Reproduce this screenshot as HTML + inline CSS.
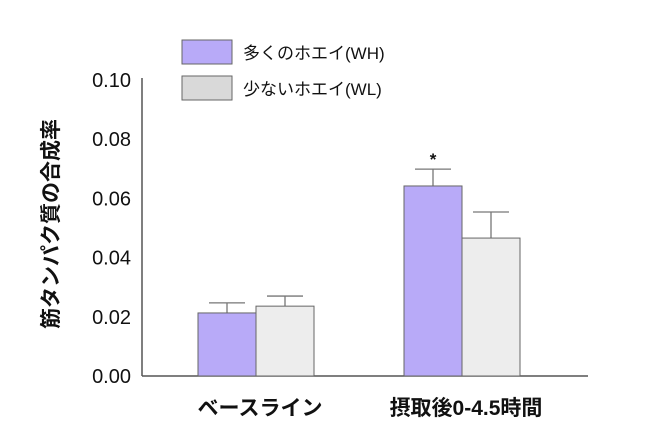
<!DOCTYPE html>
<html><head><meta charset="utf-8"><style>
body{margin:0;background:#fff;}
svg text{font-family:"Liberation Sans","Noto Sans CJK JP",sans-serif;fill:#111;}
</style></head><body>
<svg width="651" height="442" id="chart">
<g id="g"></g>
</svg>
<script>
const categories=["ベースライン","摂取後0-4.5時間"];
const seriesNames=["多くのホエイ(WH)","少ないホエイ(WL)"];
const whValues=[0.0213,0.0642];
const wlValues=[0.0236,0.0466];
const whErrors=[0.0034,0.0057];
const wlErrors=[0.0034,0.0088];
const yTicks=[0,0.02,0.04,0.06,0.08,0.10];
const yTickLabels=["0.00","0.02","0.04","0.06","0.08","0.10"];
const ns="http://www.w3.org/2000/svg";
const g=document.getElementById('g');
const y0=376,yTop=80,xAxis=142,xEnd=588;
function y(v){return y0-(v/0.10)*(y0-yTop);}
const groupCenters=[256,462];
function x(i){return groupCenters[i];}
const barW=58;
function mk(t,a){const e=document.createElementNS(ns,t);for(const k in a)e.setAttribute(k,a[k]);g.appendChild(e);return e;}
let e=mk('line',{x1:xAxis,y1:78,x2:xAxis,y2:y0,stroke:'#555','stroke-width':1.5});


e=mk('line',{x1:xAxis,y1:y0,x2:xEnd,y2:y0,stroke:'#555','stroke-width':1.5});


yTicks.forEach((v,i)=>{
  const t=mk('text',{x:131,y:y(v)+7,'text-anchor':'end','font-size':20});
  t.textContent=yTickLabels[i];
  
  
});
const series=[{vals:whValues,errs:whErrors,fill:'#b8aaf8',off:-barW},{vals:wlValues,errs:wlErrors,fill:'#ededed',off:0}];
series.forEach((s,si)=>{
  s.vals.forEach((v,i)=>{
    const bx=x(i)+s.off, cx=bx+barW/2;
    const et=y(v+s.errs[i]);
    let l=mk('line',{x1:cx,y1:et,x2:cx,y2:y(v),stroke:'#777','stroke-width':1.3});
    
    
    l=mk('line',{x1:cx-18,y1:et,x2:cx+18,y2:et,stroke:'#777','stroke-width':1.3});
    
    
    const r=mk('rect',{x:bx,y:y(v),width:barW,height:y0-y(v),fill:s.fill,stroke:'#666','stroke-width':1});
    
    
    if(si===0&&i===1){
      const st=mk('text',{x:cx,y:et-4,'text-anchor':'middle','font-size':17,'font-weight':'bold'});
      st.textContent='*';
      
      
    }
  });
});
categories.forEach((c,i)=>{
  const t=mk('text',{x:x(i)+4,y:415,'text-anchor':'middle','font-size':21,'font-weight':'bold'});
  t.textContent=c;
  
  
});
const legFills=['#b8aaf8','#d9d9d9'];
seriesNames.forEach((n,i)=>{
  const r=mk('rect',{x:182,y:40+i*36,width:50,height:24,fill:legFills[i],stroke:'#666','stroke-width':1});
  
  
  const t=mk('text',{x:243,y:59+i*36,'font-size':17});
  t.textContent=n;
  
  
});
const yt=mk('text',{x:0,y:0,'text-anchor':'middle','font-size':21,'font-weight':'bold',transform:'translate(58,224) rotate(-90)'});
yt.textContent='筋タンパク質の合成率';


</script>
</body></html>
